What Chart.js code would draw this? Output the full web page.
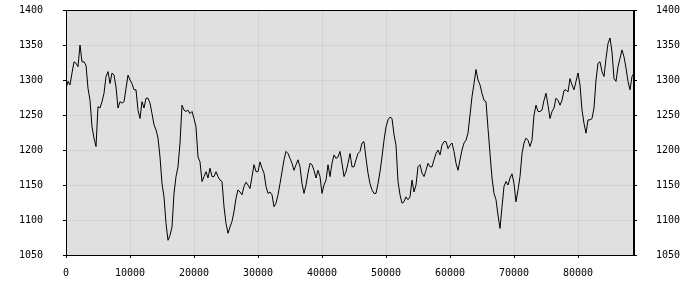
<!DOCTYPE html>
<html>
<head>
<meta charset="utf-8">
<script src="https://cdn.jsdelivr.net/npm/chart.js@4/dist/chart.umd.min.js"></script>
<style>
  html, body { margin: 0; padding: 0; background: #fff; }
  #wrap { width: 700px; height: 300px; }
</style>
</head>
<body>
<div id="wrap"><canvas id="chart" width="700" height="300"></canvas></div>
<script>
// samples are evenly spaced along x, starting at 0
const xStep = 312.5;
const values = [
  // 0 .. 12500
  1288, 1298, 1293, 1310, 1326, 1324, 1319, 1350, 1326, 1326, 1321, 1288, 1271, 1233, 1217, 1205,
  1262, 1260, 1269, 1281, 1305, 1312, 1295, 1310, 1307, 1290, 1260, 1269, 1267, 1269, 1288, 1307,
  1300, 1295, 1286, 1286, 1257, 1245, 1269, 1260, 1274,
  // 12812 .. 25312
  1274, 1267, 1252, 1236, 1229, 1217, 1190, 1152, 1133, 1095, 1071, 1078, 1090, 1138, 1162, 1176,
  1210, 1264, 1257, 1255, 1257, 1252, 1255, 1245, 1233, 1190, 1183, 1155, 1162, 1169, 1160, 1174,
  1162, 1162, 1169, 1162, 1157, 1155, 1119, 1095, 1081,
  // 25625 .. 38125
  1090, 1098, 1112, 1131, 1143, 1140, 1136, 1148, 1154, 1150, 1145, 1162, 1179, 1169, 1169, 1183,
  1174, 1167, 1148, 1138, 1140, 1136, 1119, 1124, 1136, 1152, 1169, 1186, 1198, 1195, 1188, 1181,
  1171, 1179, 1186, 1176, 1152, 1138, 1150, 1167, 1181,
  // 38437 .. 50937
  1179, 1171, 1160, 1171, 1162, 1138, 1150, 1157, 1179, 1162, 1181, 1193, 1188, 1190, 1198, 1181,
  1162, 1169, 1181, 1195, 1176, 1176, 1186, 1195, 1198, 1210, 1212, 1188, 1167, 1152, 1143, 1138,
  1138, 1152, 1169, 1190, 1214, 1233, 1243, 1247, 1245,
  // 51250 .. 63750
  1222, 1207, 1155, 1136, 1124, 1126, 1133, 1129, 1133, 1157, 1140, 1150, 1176, 1179, 1167, 1162,
  1171, 1181, 1176, 1176, 1186, 1195, 1200, 1193, 1207, 1212, 1212, 1202, 1207, 1210, 1198, 1181,
  1171, 1186, 1200, 1210, 1214, 1224, 1250, 1276, 1295,
  // 64062 .. 76562
  1315, 1300, 1293, 1281, 1271, 1269, 1231, 1195, 1160, 1138, 1129, 1107, 1088, 1119, 1148, 1155,
  1150, 1160, 1166, 1152, 1126, 1143, 1162, 1195, 1210, 1217, 1214, 1205, 1214, 1250, 1264, 1255,
  1255, 1257, 1271, 1281, 1264, 1245, 1255, 1260, 1274,
  // 76875 .. 88750
  1271, 1264, 1271, 1285, 1286, 1283, 1302, 1293, 1286, 1298, 1310, 1293, 1257, 1238, 1224, 1243,
  1243, 1245, 1260, 1300, 1324, 1326, 1312, 1305, 1331, 1352, 1360, 1340, 1302, 1298, 1319, 1331,
  1343, 1333, 1317, 1298, 1286, 1305, 1310
];

const xTicks = [0, 10000, 20000, 30000, 40000, 50000, 60000, 70000, 80000];
const yTicks = [1050, 1100, 1150, 1200, 1250, 1300, 1350, 1400];
const xMin = 0, xMax = 88750;
const yMin = 1050, yMax = 1400;

const points = values.map((v, i) => ({ x: i * xStep, y: v }));

const tickFont = { family: 'DejaVu Sans Mono', size: 10 };

function setTicks(list){
  return scale => { scale.ticks = list.map(v => ({ value: v })); };
}
function plainLabel(v){ return String(v); }
// fixed-width side axes; drop the label overhang so the plot top stays at the padding
function sideFit(scale){
  scale.width = 66;
  scale.paddingTop = 0;
  scale.paddingBottom = 0;
}

// gray plot area with a black frame
const frame = {
  id: 'frame',
  beforeDraw(chart){
    const { ctx, chartArea: a } = chart;
    ctx.save();
    ctx.fillStyle = '#e0e0e0';
    ctx.fillRect(a.left, a.top, a.right - a.left, a.bottom - a.top);
    ctx.restore();
  },
  afterDraw(chart){
    const { ctx, chartArea: a } = chart;
    ctx.save();
    ctx.strokeStyle = '#000';
    ctx.lineWidth = 1;
    ctx.strokeRect(a.left + 0.5, a.top + 0.5, a.right - a.left - 1, a.bottom - a.top);
    ctx.restore();
  }
};

new Chart(document.getElementById('chart').getContext('2d'), {
  type: 'line',
  data: {
    datasets: [{
      data: points,
      borderColor: '#000',
      borderWidth: 1,
      pointRadius: 0,
      tension: 0,
      fill: false
    }]
  },
  options: {
    animation: false,
    responsive: false,
    events: [],
    layout: { padding: { top: 10, left: 0, right: 0, bottom: 0 } },
    plugins: { legend: { display: false }, tooltip: { enabled: false } },
    scales: {
      x: {
        type: 'linear', min: xMin, max: xMax,
        afterFit: s => { s.height = 45; s.paddingLeft = 0; s.paddingRight = 0; },
        afterBuildTicks: setTicks(xTicks),
        grid: { color: '#d2d2d2', tickColor: '#000', tickLength: 3 },
        border: { color: '#000' },
        ticks: { callback: plainLabel, color: '#000', font: tickFont, padding: 9, maxRotation: 0, autoSkip: false }
      },
      y: {
        position: 'left', min: yMin, max: yMax,
        afterFit: sideFit,
        afterBuildTicks: setTicks(yTicks),
        grid: { color: '#d2d2d2', tickColor: '#000', tickLength: 3 },
        border: { color: '#000' },
        ticks: { callback: plainLabel, color: '#000', font: tickFont, padding: 20 }
      },
      y2: {
        position: 'right', min: yMin, max: yMax,
        afterFit: sideFit,
        afterBuildTicks: setTicks(yTicks),
        grid: { drawOnChartArea: false, tickColor: '#000', tickLength: 3 },
        border: { color: '#000' },
        ticks: { callback: plainLabel, color: '#000', font: tickFont, padding: 19 }
      }
    }
  },
  plugins: [frame]
});
</script>
</body>
</html>
